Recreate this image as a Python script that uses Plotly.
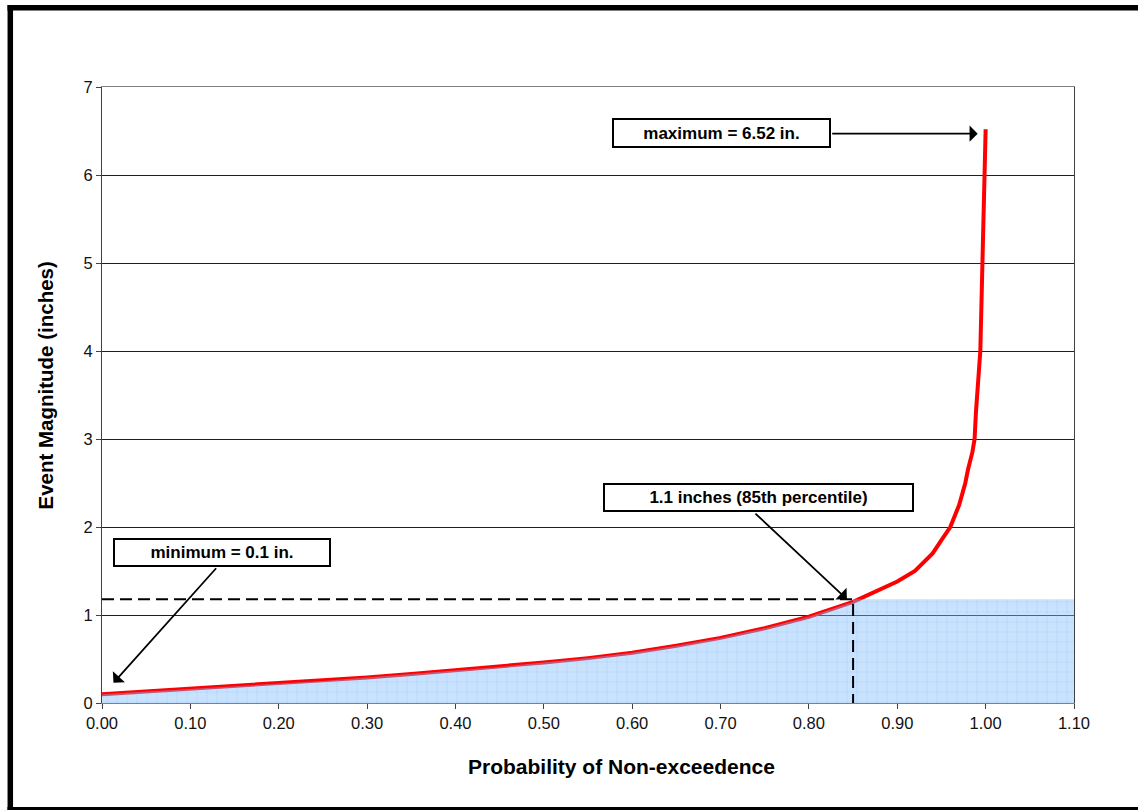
import plotly.graph_objects as go

# ---- data ----
prob = [0.00, 0.05, 0.10, 0.15, 0.20, 0.25, 0.30, 0.35, 0.40, 0.45, 0.50, 0.55,
        0.60, 0.65, 0.70, 0.75, 0.80, 0.85, 0.875, 0.90, 0.92, 0.94, 0.95, 0.96,
        0.97, 0.977, 0.98, 0.985, 0.9875, 0.989, 0.994, 0.9963, 0.9978, 1.00]
magnitude = [0.10, 0.13, 0.16, 0.19, 0.22, 0.25, 0.29, 0.33, 0.37, 0.41, 0.46, 0.51,
             0.57, 0.65, 0.74, 0.85, 0.98, 1.15, 1.26, 1.38, 1.50, 1.70, 1.85, 2.00,
             2.25, 2.50, 2.65, 2.85, 3.00, 3.30, 4.00, 5.00, 6.00, 6.52]
p85 = 0.85
v85 = 1.18
x_max = 1.10
x_ticks = [0.00, 0.10, 0.20, 0.30, 0.40, 0.50, 0.60, 0.70, 0.80, 0.90, 1.00, 1.10]
x_tick_labels = ["0.00", "0.10", "0.20", "0.30", "0.40", "0.50", "0.60", "0.70",
                 "0.80", "0.90", "1.00", "1.10"]
y_ticks = [0, 1, 2, 3, 4, 5, 6, 7]

# fill region: under curve up to p85, then rectangle to x_max at v85
fill_x = [p for p in prob if p <= p85] + [p85, x_max]
fill_y = [m for p, m in zip(prob, magnitude) if p <= p85] + [v85, v85]

W, H = 1138, 810
ML, MR, MT, MB = 102, 64, 87, 107
FONT = "Arial, Liberation Sans, sans-serif"

fig = go.Figure()
fig.add_trace(go.Scatter(x=prob, y=magnitude, mode="lines",
                         line=dict(color="#ff0000", width=4), hoverinfo="skip"))
fig.add_trace(go.Scatter(x=fill_x, y=fill_y, mode="lines", fill="tozeroy",
                         line=dict(width=0, color="rgba(0,0,0,0)"),
                         fillcolor="rgba(127,187,255,0.42)",
                         fillpattern=dict(shape="+", fillmode="overlay",
                                          fgcolor="rgba(110,170,245,0.8)",
                                          size=10, solidity=0.1),
                         hoverinfo="skip"))
fig.add_trace(go.Scatter(x=[0, p85, p85], y=[v85, v85, 0], mode="lines",
                         line=dict(color="black", width=2, dash="12px,6px"),
                         hoverinfo="skip"))

# pixel <-> paper helpers
pw, ph = W - ML - MR, H - MT - MB
def px2x(px):
    return (px - ML) / pw
def py2y(py):
    return (H - MB - py) / ph

def box(text, x, y, w, h):
    return dict(x=x, y=y, xref="x", yref="y", text="<b>%s</b>" % text,
                showarrow=False, bordercolor="black", borderwidth=2, borderpad=1,
                bgcolor="white", width=w, height=h,
                font=dict(family=FONT, size=17, color="black"))

def arrow(x, y, ax, ay):
    return dict(x=x, y=y, xref="x", yref="y", text="", showarrow=True,
                ax=ax, ay=ay, arrowhead=1, arrowsize=1.5, arrowwidth=1.8,
                arrowcolor="black", standoff=0, startstandoff=0)

annotations = [
    arrow(0.013, 0.23, 104, -116),
    arrow(0.843, 1.18, -93, -87),
    arrow(0.991, 6.47, -147, 0),
    box("minimum = 0.1 in.", 0.1358, 1.711, 212, 23),
    box("1.1 inches (85th percentile)", 0.7429, 2.331, 305, 23),
    box("maximum = 6.52 in.", 0.7008, 6.478, 213, 24),
    dict(x=px2x(621), y=py2y(766), xref="paper", yref="paper", showarrow=False,
         text="<b>Probability of Non-exceedence</b>", xanchor="center", yanchor="middle",
         font=dict(family=FONT, size=21, color="black")),
    dict(x=px2x(45), y=py2y(385.5), xref="paper", yref="paper", showarrow=False,
         text="<b>Event Magnitude (inches)</b>", textangle=-90,
         xanchor="center", yanchor="middle",
         font=dict(family=FONT, size=20.5, color="black")),
]

# outer frame: left, top, bottom edges (right edge is outside the picture)
frame = dict(color="black", width=5.5)
shapes = [
    dict(type="line", xref="paper", yref="paper", x0=px2x(10.3), x1=px2x(10.3),
         y0=py2y(811), y1=py2y(5), line=frame, layer="above"),
    dict(type="line", xref="paper", yref="paper", x0=px2x(7.5), x1=px2x(1145),
         y0=py2y(7.8), y1=py2y(7.8), line=frame, layer="above"),
    dict(type="line", xref="paper", yref="paper", x0=px2x(7.5), x1=px2x(1145),
         y0=py2y(808.5), y1=py2y(808.5), line=dict(color="black", width=3), layer="above"),
]

fig.update_layout(
    width=W, height=H, margin=dict(l=ML, r=MR, t=MT, b=MB),
    paper_bgcolor="white", plot_bgcolor="white", showlegend=False,
    font=dict(family=FONT, size=16, color="black"),
    annotations=annotations, shapes=shapes,
    xaxis=dict(range=[0, x_max], tickvals=x_ticks, ticktext=x_tick_labels,
               showgrid=False, zeroline=False, showline=True, linecolor="#808080",
               linewidth=1, mirror=True, ticks="outside", ticklen=5, tickcolor="#404040",
               tickfont=dict(family=FONT, size=16.5, color="#111")),
    yaxis=dict(range=[0, 7], tickvals=y_ticks, showgrid=True, gridcolor="#202020",
               gridwidth=1, zeroline=False, showline=True, linecolor="#404040",
               linewidth=1, mirror=True, ticks="outside", ticklen=5, tickcolor="#404040",
               tickfont=dict(family=FONT, size=16.5, color="#111")),
)

fig.write_html("out.html", config={"displayModeBar": False},
               post_script="document.body.style.margin='0';"
                           "document.body.style.overflow='hidden';"
                           "document.documentElement.style.overflow='hidden';")
